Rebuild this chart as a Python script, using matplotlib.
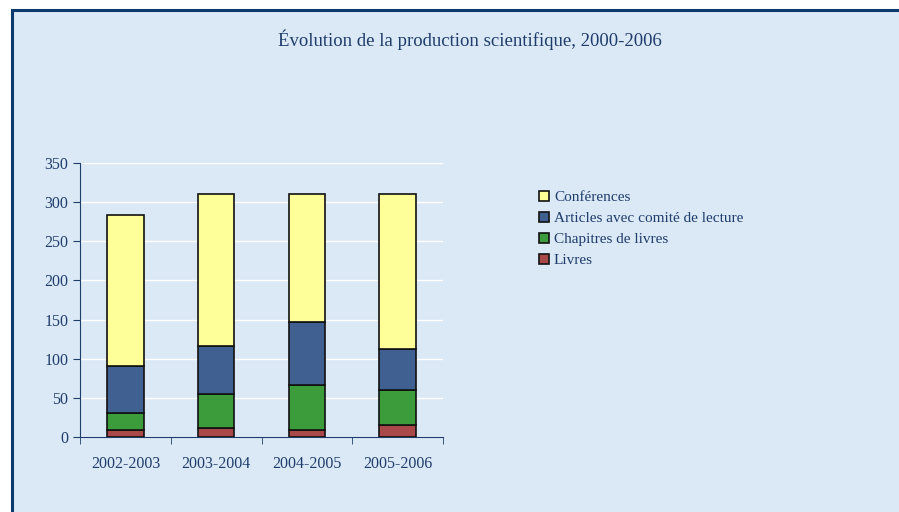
import matplotlib.pyplot as plt
from matplotlib.patches import Rectangle
import numpy as np

plt.rcParams['font.family'] = ['Liberation Serif', 'DejaVu Serif']

periods = ['2002-2003', '2003-2004', '2004-2005', '2005-2006']
livres = [9, 11, 9, 15]
chapitres = [22, 44, 57, 45]
articles = [60, 61, 81, 53]
conferences = [192, 195, 164, 197]

series = [
    ('Livres', livres, '#a84848'),
    ('Chapitres de livres', chapitres, '#3c9c3c'),
    ('Articles avec comité de lecture', articles, '#3f6090'),
    ('Conférences', conferences, '#ffff99'),
]

text_col = '#1f3d6b'
bg = '#dbe8f5'

fig = plt.figure(figsize=(8.99, 5.12), dpi=100, facecolor='white')

# background panel with dark blue frame (only left/top edges fall inside the picture)
fig.patches.append(Rectangle((11.5 / 899, -0.2), 1.5, 1.2 - 9.5 / 512,
                             transform=fig.transFigure, facecolor=bg,
                             edgecolor='#0b3a6e', linewidth=2.2, zorder=-5))

ax = fig.add_axes([80 / 899, 1 - 437 / 512, 363 / 899, 274 / 512])
ax.set_facecolor('none')

x = np.arange(len(periods))
bottom = np.zeros(len(periods))
handles = []
for name, vals, col in series:
    b = ax.bar(x, vals, width=0.4, bottom=bottom, color=col,
               edgecolor='#111111', linewidth=1.2, label=name, zorder=3)
    handles.append(b)
    bottom += np.array(vals)

ax.set_xlim(-0.5, len(periods) - 0.5)
ax.set_ylim(0, 350)
ax.set_yticks(range(0, 351, 50))
ax.yaxis.grid(True, color='white', linewidth=1, zorder=0)
ax.set_xticks(x)
ax.set_xticklabels(periods)
ax.set_xticks(np.arange(-0.5, len(periods)), minor=True)
ax.tick_params(axis='x', which='major', length=0, pad=14, labelsize=11.5, labelcolor=text_col)
ax.tick_params(axis='x', which='minor', length=5, color=text_col, direction='out')
ax.tick_params(axis='y', length=5, color=text_col, labelsize=11.5, labelcolor=text_col)

for s in ['top', 'right']:
    ax.spines[s].set_visible(False)
for s in ['left', 'bottom']:
    ax.spines[s].set_color(text_col)

leg = ax.legend(handles[::-1], [s[0] for s in series][::-1],
                loc='upper left', bbox_to_anchor=(531 / 899, 1 - 183 / 512),
                bbox_transform=fig.transFigure, frameon=False,
                fontsize=11, handlelength=0.7, handleheight=0.7,
                handletextpad=0.3, labelspacing=0.48, borderpad=0)
for t in leg.get_texts():
    t.set_color(text_col)

fig.text(470 / 899, 1 - 40 / 512, 'Évolution de la production scientifique, 2000-2006',
         ha='center', va='center', fontsize=13.5, color=text_col)

fig.savefig('out.png', dpi=100, facecolor='white')
